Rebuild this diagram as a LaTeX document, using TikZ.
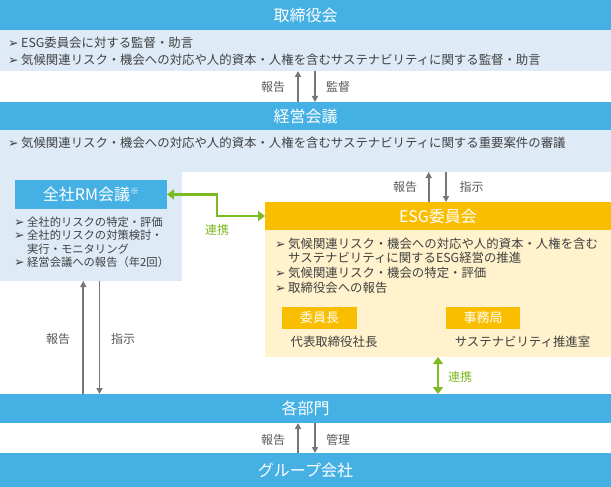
\documentclass[tikz,border=0pt]{standalone}
\usepackage{fontspec}
\setmainfont{Noto Sans CJK JP}
\newfontfamily\dejavu{DejaVu Sans}
\usetikzlibrary{arrows.meta,calc}
\definecolor{barblue}{RGB}{69,176,228}
\definecolor{panelblue}{RGB}{222,235,247}
\definecolor{esgorange}{RGB}{250,190,0}
\definecolor{esglight}{RGB}{255,242,204}
\definecolor{linkgreen}{RGB}{124,187,33}
\definecolor{arrowgray}{RGB}{118,118,118}
\definecolor{textgray}{RGB}{64,64,64}
\definecolor{labelgray}{RGB}{89,89,89}
\newcommand{\bul}{\makebox[13pt][l]{\dejavu\fontsize{12.5}{12.5}\selectfont ➢}}
\newcommand{\nobul}{\makebox[13pt][l]{}}
\begin{document}
\begin{tikzpicture}[x=1pt,y=-1pt,
  bar/.style={fill=barblue, text=white, font=\fontsize{16}{16}\selectfont, minimum width=611pt, inner sep=0pt, outer sep=0pt, anchor=north west},
  panel/.style={fill=panelblue, inner sep=0pt, outer sep=0pt, anchor=north west},
  item/.style={anchor=west, inner sep=0pt, text=textgray, font=\fontsize{12.4}{14}\selectfont},
  smallitem/.style={anchor=west, inner sep=0pt, text=textgray, font=\fontsize{11.3}{13}\selectfont},
  lbl/.style={text=labelgray, font=\fontsize{12}{12}\selectfont, inner sep=0pt},
  greenlbl/.style={text=linkgreen, font=\fontsize{12}{12}\selectfont, inner sep=0pt},
  subbox/.style={fill=esgorange, text=white, font=\fontsize{13}{13}\selectfont, inner sep=0pt, outer sep=0pt, anchor=north west, minimum height=22.5pt},
  garrow/.style={draw=arrowgray, line width=1.8pt, -{Triangle[length=6pt,width=6pt]}},
  grarrow/.style={draw=linkgreen, line width=2.8pt, {Triangle[length=7pt,width=10pt]}-{Triangle[length=7pt,width=10pt]}}
]
\useasboundingbox (0,0) rectangle (611,487);
% top
\node[bar, minimum height=30pt] (board) at (0,0) {取締役会};
\node[panel, minimum width=611pt, minimum height=41pt] (p1) at (0,30) {};
\node[item] (b1a) at (8,43) {\bul ESG委員会に対する監督・助言};
\node[item] (b1b) at (8,60) {\bul 気候関連リスク・機会への対応や人的資本・人権を含むサステナビリティに関する監督・助言};
% management
\node[bar, minimum height=28pt] (mgmt) at (0,102) {経営会議};
\node[panel, minimum width=611pt, minimum height=42pt] (p2) at (0,130) {};
\node[panel, minimum width=182pt, minimum height=110pt] (p2l) at (0,171) {};
\node[item] (b2) at (8,143) {\bul 気候関連リスク・機会への対応や人的資本・人権を含むサステナビリティに関する重要案件の審議};
% RM
\node[bar, minimum width=152pt, minimum height=29pt] (rm) at (15,180) {全社RM会議\raisebox{0.7ex}{\fontsize{9}{9}\selectfont ※}};
\node[smallitem] (r1) at (14,222) {\bul 全社的リスクの特定・評価};
\node[smallitem] (r2) at (14,235.5) {\bul 全社的リスクの対策検討・};
\node[smallitem] (r3) at (14,249) {\nobul 実行・モニタリング};
\node[smallitem] (r4) at (14,262.5) {\bul 経営会議への報告（年2回）};
% ESG
\node[bar, fill=esgorange, minimum width=346pt, minimum height=28pt] (esghead) at (265,202) {ESG委員会};
\node[panel, fill=esglight, minimum width=346pt, minimum height=127pt] (esgbody) at (265,230) {};
\node[item] (e1) at (275,244) {\bul 気候関連リスク・機会への対応や人的資本・人権を含む};
\node[item] (e2) at (275,257.7) {\nobul サステナビリティに関するESG経営の推進};
\node[item] (e3) at (275,273.3) {\bul 気候関連リスク・機会の特定・評価};
\node[item] (e4) at (275,288.3) {\bul 取締役会への報告};
\node[subbox, minimum width=75pt] (chair) at (282,306.5) {委員長};
\node[subbox, minimum width=74pt] (sec) at (446,306.5) {事務局};
\node[item, anchor=center] (chairn) at (334,341.5) {代表取締役社長};
\node[item, anchor=center] (secn) at (522.5,341.5) {サステナビリティ推進室};
% bottom
\node[bar, minimum height=29pt] (dept) at (0,394) {各部門};
\node[bar, minimum height=34pt] (group) at (0,453) {グループ会社};
% arrows board <-> mgmt
\draw[garrow] ([xshift=-7.5pt]mgmt.north) -- ([xshift=-7.5pt]p1.south);
\draw[garrow] ([xshift=9.5pt]p1.south) -- ([xshift=9.5pt]mgmt.north);
\node[lbl] (l1) at (273,87) {報告};
\node[lbl] (l2) at (338,87) {監督};
% mgmt <-> ESG
\coordinate (eu) at ([xshift=-9.3pt]esghead.north);
\coordinate (ed) at ([xshift=8pt]esghead.north);
\draw[garrow] (eu) -- (eu |- p2.south);
\draw[garrow] (ed |- p2.south) -- (ed);
\node[lbl] (l3) at (405,187) {報告};
\node[lbl] (l4) at (471.5,187) {指示};
% RM <-> dept
\coordinate (lu) at ([xshift=-7.7pt]p2l.south);
\coordinate (ld) at ([xshift=8.5pt]p2l.south);
\draw[garrow] (lu |- dept.north) -- (lu);
\draw[garrow] (ld) -- (ld |- dept.north);
\node[lbl] (l5) at (58,339) {報告};
\node[lbl] (l6) at (123,339) {指示};
% dept <-> group
\draw[garrow] ([xshift=-7.5pt]group.north) -- ([xshift=-7.5pt]dept.south);
\draw[garrow] ([xshift=9.5pt]dept.south) -- ([xshift=9.5pt]group.north);
\node[lbl] (l7) at (273,440) {報告};
\node[lbl] (l8) at (338,440) {管理};
% green links
\draw[grarrow] (rm.east) -- ++(50,0) |- (esghead.west);
\node[greenlbl] (g1) at (217,230) {連携};
\draw[grarrow] (esgbody.south) -- (esgbody.south |- dept.north);
\node[greenlbl] (g2) at (460,377) {連携};
\end{tikzpicture}
\end{document}
